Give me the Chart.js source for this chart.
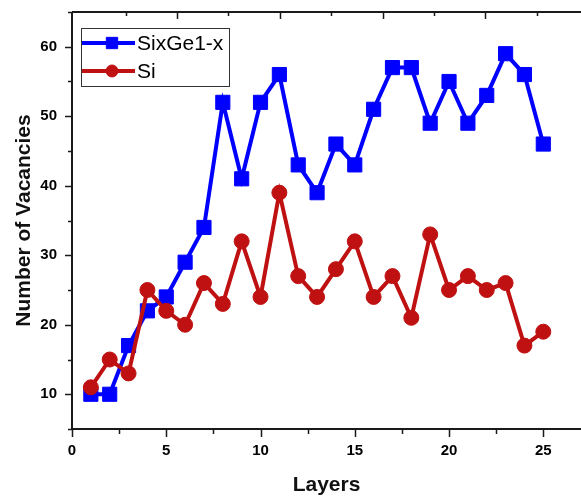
<!DOCTYPE html>
<html>
<head>
<meta charset="utf-8">
<script src="https://cdn.jsdelivr.net/npm/chart.js@4"></script>
<style>
  html, body { margin: 0; padding: 0; background: #fff; }
  #wrap { width: 581px; height: 496px; }
</style>
</head>
<body>
<div id="wrap"><canvas id="my-chart" width="581" height="496"></canvas></div>
<script>
// layers 1..25
const layers = [1, 2, 3, 4, 5, 6, 7, 8, 9, 10, 11, 12, 13, 14, 15, 16, 17, 18, 19, 20, 21, 22, 23, 24, 25];
const sixGe = [10, 10, 17, 22, 24, 29, 34, 52, 41, 52, 56, 43, 39, 46, 43, 51, 57, 57, 49, 55, 49, 53, 59, 56, 46];
const si = [11, 15, 13, 25, 22, 20, 26, 23, 32, 24, 39, 27, 24, 28, 32, 24, 27, 21, 33, 25, 27, 25, 26, 17, 19];

const xTicks = [0, 5, 10, 15, 20, 25];
const yTicks = [10, 20, 30, 40, 50, 60];
const topTicks = [0, 1, 2, 3, 4, 5, 6, 7, 8, 9];

const seriesNames = ['SixGe1-x', 'Si'];
const blue = '#0000FF';
const red = '#BF1111';
const axisColor = '#1a1a1a';
const font = 'Liberation Sans, Arial, sans-serif';

// no extra label overflow padding, so the plot area sits where the sizes say
function fixPadding(s) {
  s.paddingTop = 0;
  s.paddingBottom = 0;
  s.paddingLeft = 0;
  s.paddingRight = 0;
}

// axis frame, major + minor tick marks, and the boxed legend
const framePlugin = {
  id: 'frame',
  afterDraw(chart) {
    const { ctx, chartArea } = chart;
    const { left, right, top, bottom } = chartArea;
    const x = chart.scales.x;
    const y = chart.scales.y;
    const x2 = chart.scales.x2;
    ctx.save();
    ctx.strokeStyle = axisColor;
    ctx.lineWidth = 2;
    ctx.beginPath();
    ctx.moveTo(left, top);
    ctx.lineTo(left, bottom);
    ctx.lineTo(right, bottom);
    ctx.moveTo(left, top);
    ctx.lineTo(right, top);
    ctx.stroke();

    ctx.lineWidth = 1.5;
    ctx.beginPath();
    // bottom ticks, outward
    for (let v = 0; v <= x.max; v += 2.5) {
      const px = Math.round(x.getPixelForValue(v)) + 0.5;
      const len = v % 5 === 0 ? 8 : 5;
      ctx.moveTo(px, bottom);
      ctx.lineTo(px, bottom + len);
    }
    // left ticks, outward
    for (let v = 5; v <= y.max; v += 5) {
      const py = Math.round(y.getPixelForValue(v)) + 0.5;
      const len = v % 10 === 0 ? 7 : 4;
      ctx.moveTo(left, py);
      ctx.lineTo(left - len, py);
    }
    // top ticks, inward
    topTicks.forEach((v) => {
      if (v === 0) return;
      const px = Math.round(x2.getPixelForValue(v)) + 0.5;
      const len = v % 2 === 0 ? 7 : 4;
      ctx.moveTo(px, top);
      ctx.lineTo(px, top + len);
    });
    ctx.stroke();

    // legend
    const lx = 81, ly = 28, lw = 148, lh = 58;
    ctx.fillStyle = '#fff';
    ctx.fillRect(lx, ly, lw, lh);
    ctx.strokeStyle = '#333';
    ctx.lineWidth = 1;
    ctx.strokeRect(lx + 0.5, ly + 0.5, lw, lh);
    chart.data.datasets.slice().sort((a, b) => a.legendIndex - b.legendIndex).forEach((ds, i) => {
      const cy = ly + 15 + i * 28;
      ctx.strokeStyle = ds.borderColor;
      ctx.lineWidth = ds.borderWidth;
      ctx.beginPath();
      ctx.moveTo(lx + 1, cy);
      ctx.lineTo(lx + 54, cy);
      ctx.stroke();
      ctx.fillStyle = ds.pointBackgroundColor;
      ctx.strokeStyle = ds.pointBorderColor;
      ctx.lineWidth = ds.pointBorderWidth;
      Chart.helpers.drawPoint(ctx, {
        pointStyle: ds.pointStyle,
        radius: ds.pointRadius * 0.8,
        rotation: 0,
        borderWidth: ds.pointBorderWidth,
      }, lx + 31, cy);
      ctx.fillStyle = '#000';
      ctx.font = '21px ' + font;
      ctx.textBaseline = 'middle';
      ctx.textAlign = 'left';
      ctx.fillText(ds.label, lx + 56, cy + 1);
    });
    ctx.restore();
  },
};

const ctx = document.getElementById('my-chart').getContext('2d');

const myChart = new Chart(ctx, {
  type: 'line',
  data: {
    datasets: [
      {
        label: seriesNames[0],
        legendIndex: 0,
        order: 1,
        data: layers.map((l, i) => ({ x: l, y: sixGe[i] })),
        borderColor: blue,
        backgroundColor: blue,
        borderWidth: 4,
        pointStyle: 'rect',
        pointRadius: 10,
        pointBackgroundColor: blue,
        pointBorderColor: blue,
        pointBorderWidth: 1,
        tension: 0,
      },
      {
        label: seriesNames[1],
        legendIndex: 1,
        order: 0,
        data: layers.map((l, i) => ({ x: l, y: si[i] })),
        borderColor: red,
        backgroundColor: red,
        borderWidth: 4,
        pointStyle: 'circle',
        pointRadius: 7.5,
        pointBackgroundColor: red,
        pointBorderColor: red,
        pointBorderWidth: 1,
        tension: 0,
      },
    ],
  },
  options: {
    responsive: false,
    animation: false,
    layout: { padding: 0, autoPadding: false },
    plugins: {
      legend: { display: false },
      tooltip: { enabled: false },
    },
    scales: {
      x: {
        type: 'linear',
        position: 'bottom',
        min: 0,
        max: 27,
        afterBuildTicks: (s) => { s.ticks = xTicks.map((v) => ({ value: v })); },
        afterFit: (s) => { s.height = 67; fixPadding(s); },
        grid: { display: false, drawTicks: false },
        border: { display: false },
        ticks: {
          padding: 13,
          color: '#000',
          font: { family: font, size: 15, weight: 'bold' },
          maxRotation: 0,
        },
        title: {
          display: true,
          text: 'Layers',
          color: '#111',
          padding: { top: 0, bottom: 0 },
          font: { family: font, size: 21, weight: 'bold', lineHeight: 1 },
        },
      },
      x2: {
        type: 'linear',
        position: 'top',
        min: -0.045,
        max: 9.86,
        afterBuildTicks: (s) => { s.ticks = topTicks.map((v) => ({ value: v })); },
        afterFit: (s) => { s.height = 12; fixPadding(s); },
        grid: { display: false, drawTicks: false },
        border: { display: false },
        ticks: { display: false },
      },
      y: {
        type: 'linear',
        min: 5,
        max: 65,
        afterBuildTicks: (s) => { s.ticks = yTicks.map((v) => ({ value: v })); },
        afterFit: (s) => { s.width = 72; fixPadding(s); },
        grid: { display: false, drawTicks: false },
        border: { display: false },
        ticks: {
          padding: 15,
          color: '#000',
          font: { family: font, size: 15, weight: 'bold' },
        },
        title: {
          display: true,
          text: 'Number of Vacancies',
          color: '#111',
          padding: { top: 12, bottom: 0 },
          font: { family: font, size: 21, weight: 'bold' },
        },
      },
    },
  },
  plugins: [framePlugin],
});
</script>
</body>
</html>
